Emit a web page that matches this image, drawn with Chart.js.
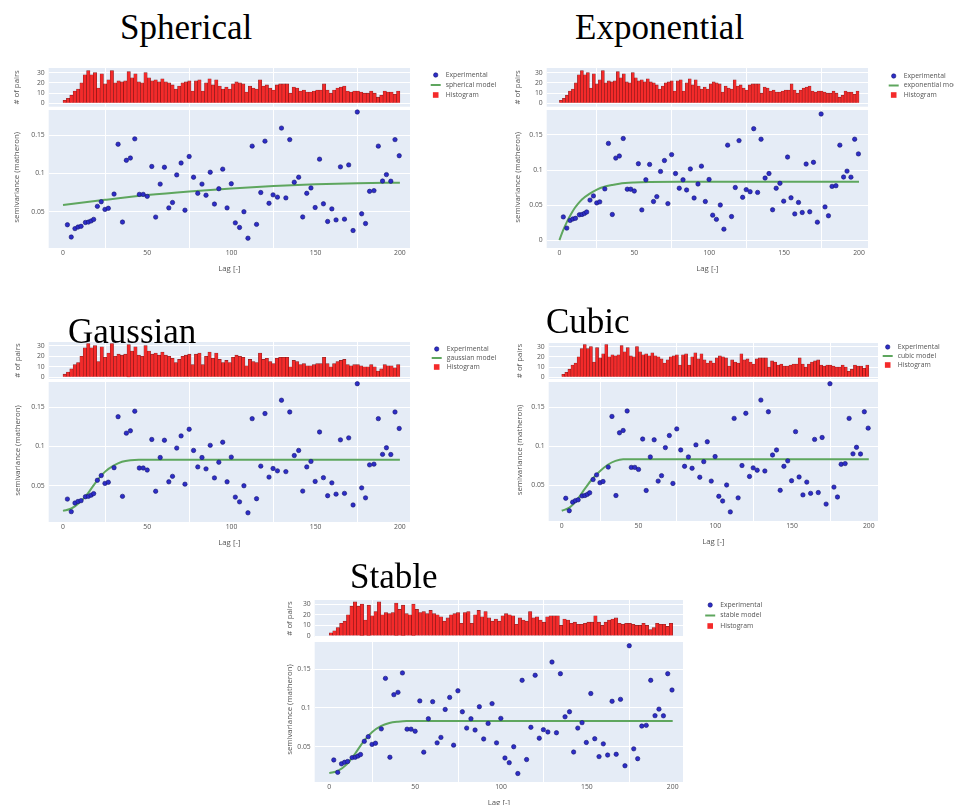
<!DOCTYPE html>
<html>
<head>
<meta charset="utf-8">
<title>Variogram models</title>
<script src="https://cdn.jsdelivr.net/npm/chart.js"></script>
<style>
  html, body { margin: 0; padding: 0; background: #fff; width: 954px; height: 805px; overflow: hidden; position: relative; }
  canvas { position: absolute; }
  .model-title {
    position: absolute; z-index: 2; white-space: nowrap; color: #000;
    font-family: "Liberation Serif", "Times New Roman", serif; font-size: 35px; line-height: 35px;
  }
</style>
</head>
<body>
<script>
// ---- shared data -------------------------------------------------------

// experimental semivariogram: lag class centres and semivariance (matheron)
const expLags = [
  2.6, 4.9, 7.1, 8.9, 10.7, 13.3, 15.1, 16.7, 18.2, 20.4,
  22.7, 24.9, 26.9, 30.3, 32.7, 35.3, 37.6, 40.0, 42.6, 45.3,
  47.6, 50.0, 52.7, 55.0, 57.7, 60.2, 62.8, 65.0, 67.5, 70.1,
  72.4, 74.9, 77.5, 80.0, 82.5, 84.9, 87.4, 89.9, 92.5, 94.8,
  97.4, 99.9, 102.3, 104.8, 107.4, 109.8, 112.3, 114.9, 117.4, 119.9,
  122.3, 124.7, 127.3, 129.7, 132.3, 134.6, 137.3, 139.9, 142.3, 144.7,
  147.2, 149.7, 152.3, 154.6, 157.1, 159.6, 162.1, 164.7, 167.1, 169.6,
  172.2, 174.7, 177.3, 179.6, 182.0, 184.6, 187.2, 189.7, 192.0, 194.6,
  197.1, 199.6
];
const expSemivariance = [
  0.033, 0.017, 0.028, 0.030, 0.031, 0.036, 0.0365, 0.038, 0.040, 0.057,
  0.063, 0.053, 0.0545, 0.073, 0.138, 0.0365, 0.117, 0.120, 0.145, 0.0726,
  0.0726, 0.070, 0.109, 0.043, 0.086, 0.108, 0.055, 0.062, 0.098, 0.1135,
  0.052, 0.122, 0.095, 0.074, 0.086, 0.0715, 0.1015, 0.060, 0.080, 0.1055,
  0.055, 0.0865, 0.0355, 0.0295, 0.050, 0.0155, 0.1355, 0.0335, 0.075, 0.142,
  0.061, 0.072, 0.069, 0.159, 0.068, 0.144, 0.0885, 0.095, 0.0432, 0.074,
  0.081, 0.0555, 0.1185, 0.0603, 0.0373, 0.0537, 0.0393, 0.1085, 0.0403, 0.111,
  0.0255, 0.180, 0.0473, 0.0346, 0.0766, 0.0775, 0.1355, 0.090, 0.0984, 0.0898,
  0.144, 0.123
];

// number of point pairs per lag bin (bins of width 2 from 0 to 200)
const binWidth = 2;
const pairCounts = [
  3, 5, 8, 12, 14, 20, 28, 32, 28, 30,
  15, 29, 19, 23, 32, 20, 22, 21, 22, 31,
  25, 29, 21, 20, 30, 25, 22, 23, 21, 24,
  21, 20, 18, 14, 17, 20, 21, 22, 12, 22,
  23, 12, 20, 24, 18, 23, 17, 14, 16, 14,
  19, 21, 20, 19, 11, 17, 15, 14, 23, 17,
  18, 15, 13, 18, 19, 19, 19, 10, 16, 15,
  12, 13, 11, 11, 12, 13, 13, 19, 13, 10,
  13, 15, 16, 17, 12, 11, 12, 12, 11, 10,
  10, 12, 10, 6, 8, 12, 11, 11, 9, 12
];

// fitted model curves (lag, semivariance)
const sphericalLags   = [0, 25, 50, 75, 100, 125, 150, 175, 200];
const sphericalValues = [0.0587, 0.0655, 0.0717, 0.0765, 0.0804, 0.0835, 0.0857, 0.0872, 0.0878];

const exponentialLags   = [0, 2.5, 5, 7.5, 10, 12.5, 15, 20, 25, 30, 35, 40, 50, 60, 80, 100, 150, 200];
const exponentialValues = [0, 0.014, 0.026, 0.036, 0.045, 0.052, 0.058, 0.066, 0.072, 0.076, 0.0785, 0.0805, 0.0822, 0.0829, 0.0833, 0.0833, 0.0833, 0.0833];

const gaussianLags   = [0, 5, 10, 15, 20, 25, 30, 35, 40, 45, 50, 100, 150, 200];
const gaussianValues = [0.018, 0.021, 0.029, 0.041, 0.056, 0.068, 0.0755, 0.0805, 0.0825, 0.083, 0.083, 0.083, 0.083, 0.083];

const cubicLags   = [0, 5, 10, 15, 20, 25, 30, 35, 40, 50, 100, 150, 200];
const cubicValues = [0.017, 0.021, 0.031, 0.045, 0.058, 0.068, 0.076, 0.081, 0.083, 0.083, 0.083, 0.083, 0.083];

const stableLags   = [0, 5, 10, 15, 20, 25, 30, 35, 40, 45, 50, 100, 150, 200];
const stableValues = [0.016, 0.019, 0.027, 0.041, 0.057, 0.069, 0.0765, 0.0805, 0.0822, 0.083, 0.083, 0.083, 0.083, 0.083];

// tick labels
const lagTicks = [0, 50, 100, 150, 200];
const pairTicks = [0, 10, 20, 30];
const semiTicks = [0.05, 0.1, 0.15];
const semiTicksWithZero = [0, 0.05, 0.1, 0.15];

// ---- styling -----------------------------------------------------------
const PLOT_BG = '#E5ECF6';
const TEXT = '#555';
const TICK_FONT = { family: "'Open Sans', sans-serif", size: 6.8 };
const TITLE_FONT = { family: "'Open Sans', sans-serif", size: 7.8 };
const POINT_FILL = '#2d2dc8';
const POINT_EDGE = '#15156e';
const MODEL_GREEN = '#5ea65e';
const BAR_RED = '#f42a2a';
const BAR_EDGE = 'rgba(120,0,0,0.85)';

Chart.defaults.font.family = "'Open Sans', sans-serif";

// light plot-area fill for the histogram strip and the semivariance area
const plotBackground = {
  id: 'plotBackground',
  beforeDraw(chart, args, opts) {
    const { ctx, chartArea } = chart;
    const h = chart.scales.yh, s = chart.scales.y;
    ctx.save();
    ctx.fillStyle = opts.color;
    ctx.fillRect(chartArea.left, h.top, chartArea.width, h.bottom - h.top);
    ctx.fillRect(chartArea.left, s.top + opts.gap, chartArea.width, s.bottom - s.top - opts.gap);
    ctx.restore();
  }
};

// legend column to the right of the plot
const sideLegend = {
  id: 'sideLegend',
  afterDraw(chart, args, opts) {
    const ctx = chart.ctx;
    ctx.save();
    ctx.font = `${opts.fontSize}px 'Open Sans', sans-serif`;
    ctx.textBaseline = 'middle';
    ctx.textAlign = 'left';
    chart.data.datasets.forEach((ds, i) => {
      const x = opts.x, y = opts.y + i * opts.rowGap;
      if (ds.type === 'scatter') {
        ctx.beginPath();
        ctx.arc(x, y, 2.2, 0, Math.PI * 2);
        ctx.fillStyle = ds.pointBackgroundColor;
        ctx.fill();
        ctx.lineWidth = 0.6;
        ctx.strokeStyle = ds.pointBorderColor;
        ctx.stroke();
      } else if (ds.type === 'line') {
        ctx.beginPath();
        ctx.moveTo(x - 5, y);
        ctx.lineTo(x + 5, y);
        ctx.lineWidth = 2;
        ctx.strokeStyle = ds.borderColor;
        ctx.stroke();
      } else {
        ctx.fillStyle = ds.backgroundColor;
        ctx.fillRect(x - 2.8, y - 2.8, 5.6, 5.6);
      }
      ctx.fillStyle = opts.color;
      ctx.fillText(ds.label, x + opts.textGap, y);
    });
    ctx.restore();
  }
};

// ---- panel layout (page pixels) ------------------------------------------
const panels = [
  { title: 'Spherical', titleAt: [120, 9.5], model: 'spherical model',
    lags: sphericalLags, values: sphericalValues, ticks: semiTicks,
    box: { left: 49, right: 410, top: 68, histBottom: 106.7, scatterTop: 110, bottom: 248 },
    histRange: [-3.3, 34.6], semiRange: [0.0027, 0.1826], yTitleOffset: 32,
    legend: { x: 436, y: 75, rowGap: 10 } },
  { title: 'Exponential', titleAt: [575, 9.5], model: 'exponential model',
    lags: exponentialLags, values: exponentialValues, ticks: semiTicksWithZero,
    box: { left: 547, right: 868, top: 68, histBottom: 106.7, scatterTop: 110, bottom: 248 },
    histRange: [-3.3, 34.6], semiRange: [-0.0114, 0.1857], yTitleOffset: 29,
    legend: { x: 894, y: 76, rowGap: 9.5 } },
  { title: 'Gaussian', titleAt: [68, 313.5], model: 'gaussian model',
    lags: gaussianLags, values: gaussianValues, ticks: semiTicks,
    box: { left: 49, right: 410, top: 342, histBottom: 379, scatterTop: 382, bottom: 522 },
    histRange: [-1.6, 33.5], semiRange: [0.0038, 0.1822], yTitleOffset: 31,
    legend: { x: 437, y: 349, rowGap: 9 } },
  { title: 'Cubic', titleAt: [546, 303.5], model: 'cubic model',
    lags: cubicLags, values: cubicValues, ticks: semiTicks,
    box: { left: 549, right: 878, top: 343, histBottom: 379, scatterTop: 382, bottom: 521 },
    histRange: [-1.6, 33.5], semiRange: [0.0038, 0.1822], yTitleOffset: 29,
    legend: { x: 888, y: 347, rowGap: 9 } },
  { title: 'Stable', titleAt: [350, 558.5], model: 'stable model',
    lags: stableLags, values: stableValues, ticks: semiTicks,
    box: { left: 314.5, right: 683, top: 600, histBottom: 637, scatterTop: 642, bottom: 782 },
    histRange: [-0.9, 33.8], semiRange: [0.0046, 0.1848], yTitleOffset: 25,
    legend: { x: 710, y: 605, rowGap: 10.5 } }
];

const LAG_MIN = -8.5, LAG_MAX = 206;
const PAD_TOP = 10, PAD_BOTTOM = 3, X_AXIS_H = 25, PAD_RIGHT = 130;

function setTicks(values) {
  return scale => { scale.ticks = values.map(v => ({ value: v })); };
}

function buildPanel(p) {
  const axisW = p.yTitleOffset + 4.7;
  const left = p.box.left - axisW;
  const top = p.box.top - PAD_TOP;
  const width = Math.round(p.box.right - left + PAD_RIGHT);
  const height = Math.round(p.box.bottom - p.box.top + PAD_TOP + X_AXIS_H + PAD_BOTTOM);

  const cv = document.createElement('canvas');
  cv.width = width; cv.height = height;
  cv.style.left = left + 'px'; cv.style.top = top + 'px';
  cv.style.width = width + 'px'; cv.style.height = height + 'px';
  document.body.appendChild(cv);

  const t = document.createElement('div');
  t.className = 'model-title';
  t.textContent = p.title;
  t.style.left = p.titleAt[0] + 'px';
  t.style.top = p.titleAt[1] + 'px';
  document.body.appendChild(t);

  const histH = p.box.histBottom - p.box.top;
  const scatH = p.box.bottom - p.box.histBottom;
  const gap = p.box.scatterTop - p.box.histBottom;
  const [sMin, sMax] = p.semiRange;
  const sMaxBox = sMax + gap * (sMax - sMin) / (p.box.bottom - p.box.scatterTop);
  const chartRight = p.box.right - left;
  const usedW = width - PAD_RIGHT;

  new Chart(cv, {
    type: 'scatter',
    data: {
      datasets: [
        {
          type: 'scatter', label: 'Experimental', yAxisID: 'y',
          data: expLags.map((x, i) => ({ x, y: expSemivariance[i] })),
          pointRadius: 2.2, pointBackgroundColor: POINT_FILL,
          pointBorderColor: POINT_EDGE, pointBorderWidth: 0.6
        },
        {
          type: 'line', label: p.model, yAxisID: 'y',
          data: p.lags.map((x, i) => ({ x, y: p.values[i] })),
          borderColor: MODEL_GREEN, borderWidth: 2, pointRadius: 0,
          cubicInterpolationMode: 'monotone', fill: false
        },
        {
          type: 'bar', label: 'Histogram', yAxisID: 'yh',
          data: pairCounts.map((c, i) => ({ x: (i + 0.5) * binWidth, y: c })),
          backgroundColor: BAR_RED, borderColor: BAR_EDGE, borderWidth: 0.6,
          barPercentage: 1, categoryPercentage: 1
        }
      ]
    },
    options: {
      responsive: false,
      animation: false,
      devicePixelRatio: 1,
      layout: { padding: { left: 0, top: PAD_TOP, right: PAD_RIGHT, bottom: PAD_BOTTOM } },
      scales: {
        x: {
          type: 'linear', position: 'bottom', min: LAG_MIN, max: LAG_MAX, offset: false,
          afterBuildTicks: setTicks(lagTicks),
          afterFit: s => { s.height = X_AXIS_H; },
          ticks: { autoSkip: false, maxRotation: 0, padding: 1, font: TICK_FONT, color: TEXT },
          grid: { color: '#ffffff', lineWidth: 1, drawTicks: false },
          border: { display: false },
          title: { display: true, text: 'Lag [-]', padding: 0, font: TITLE_FONT, color: TEXT }
        },
        y: {
          type: 'linear', position: 'left', stack: 'panel', stackWeight: scatH, weight: 1,
          min: sMin, max: sMaxBox,
          afterBuildTicks: setTicks(p.ticks),
          afterFit: s => { s.width = axisW; },
          ticks: { autoSkip: false, padding: 4, font: TICK_FONT, color: TEXT, callback: v => String(v) },
          grid: { color: '#ffffff', lineWidth: 1, drawTicks: false },
          border: { display: false },
          title: { display: true, text: 'semivariance (matheron)', padding: 0, font: TITLE_FONT, color: TEXT }
        },
        yh: {
          type: 'linear', position: 'left', stack: 'panel', stackWeight: histH, weight: 2,
          min: p.histRange[0], max: p.histRange[1],
          afterBuildTicks: setTicks(pairTicks),
          afterFit: s => { s.width = axisW; },
          ticks: { autoSkip: false, padding: 4, font: TICK_FONT, color: TEXT, callback: v => String(v) },
          grid: { color: '#ffffff', lineWidth: 1, drawTicks: false },
          border: { display: false },
          title: { display: true, text: '# of pairs', padding: 0, font: TITLE_FONT, color: TEXT }
        }
      },
      plugins: {
        legend: { display: false },
        tooltip: { enabled: false },
        plotBackground: { color: PLOT_BG, gap },
        sideLegend: {
          x: p.legend.x - left, y: p.legend.y - top, rowGap: p.legend.rowGap,
          textGap: 10, fontSize: 6.8, color: TEXT
        }
      }
    },
    plugins: [plotBackground, sideLegend]
  });
}

panels.forEach(buildPanel);
</script>
</body>
</html>
